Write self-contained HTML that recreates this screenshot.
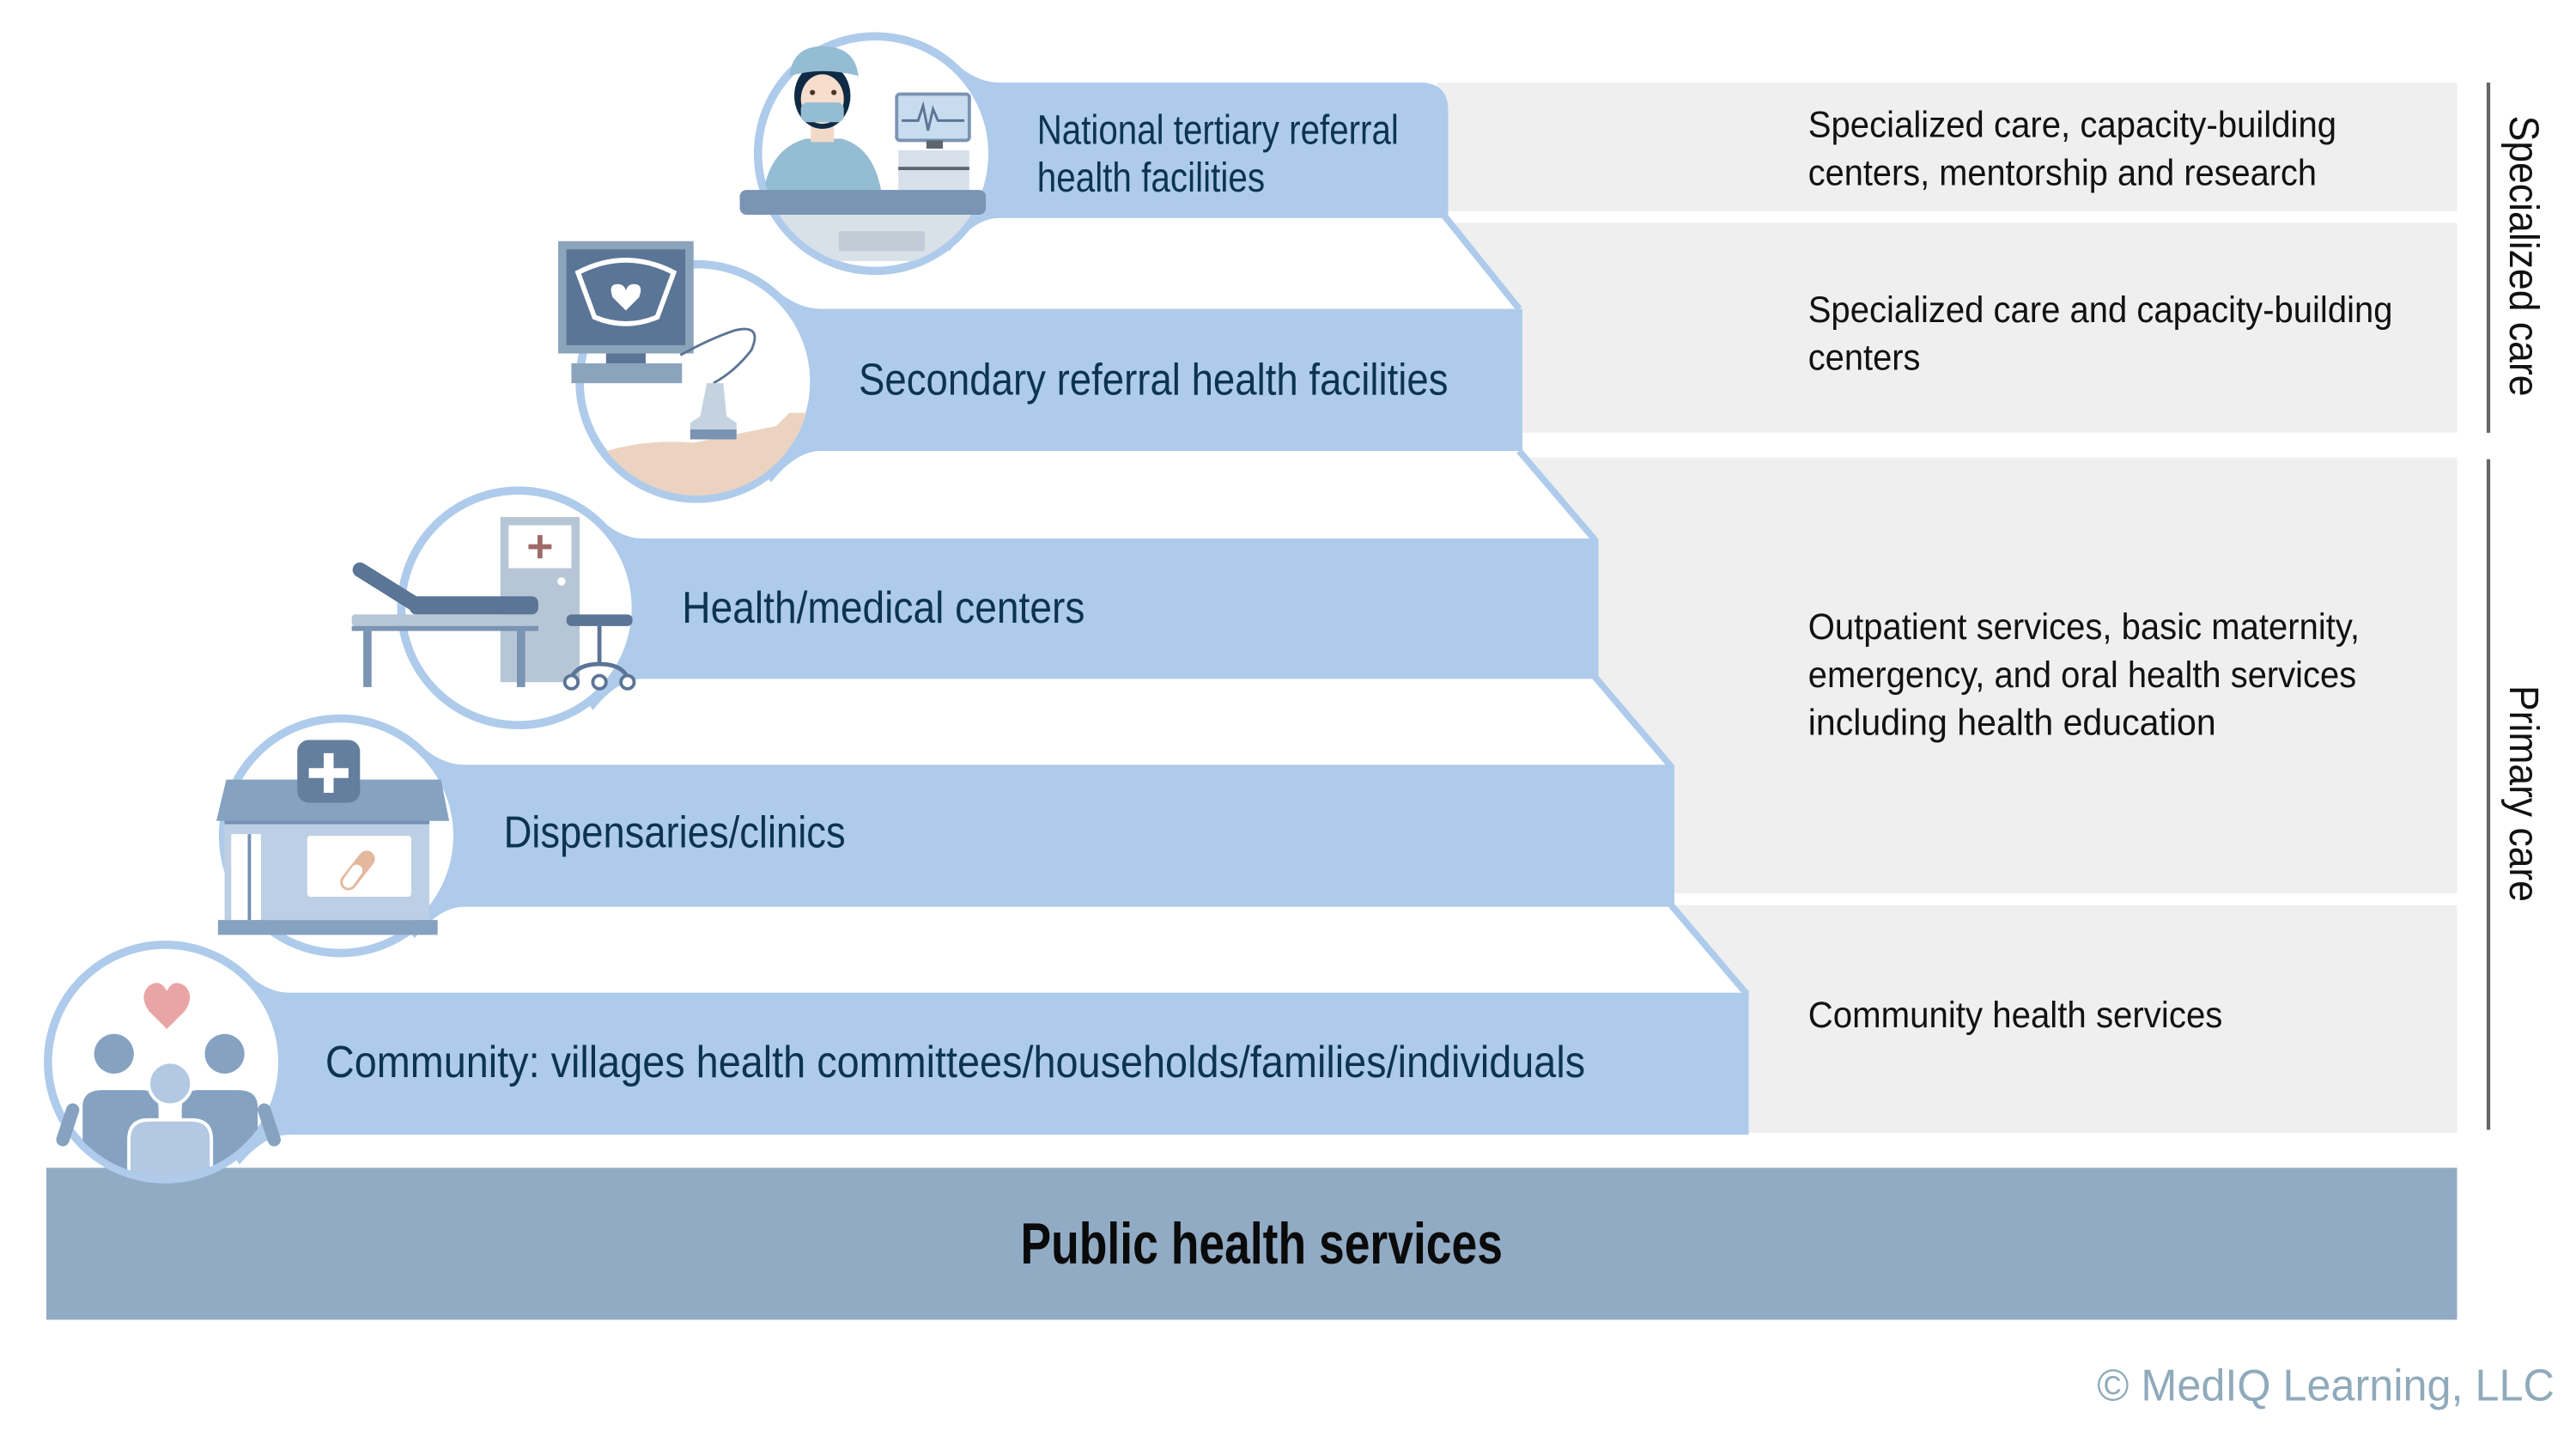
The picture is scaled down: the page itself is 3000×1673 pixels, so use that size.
<!DOCTYPE html>
<html><head><meta charset="utf-8"><style>
html,body{margin:0;padding:0;background:#fff;}
svg{display:block;}
</style></head><body>
<svg width="3000" height="1673" viewBox="0 0 1560 870" xmlns="http://www.w3.org/2000/svg" font-family="'Liberation Sans', sans-serif">
<rect width="1560" height="870" fill="#fff"/>
<!-- grey rows -->
<g fill="#efefef">
<rect x="870" y="50" width="618" height="78"/>
<rect x="870" y="135" width="618" height="127"/>
<rect x="900" y="277" width="588" height="264"/>
<rect x="960" y="548" width="528" height="138"/>
</g>
<!-- white wedges -->
<g fill="#fff">
<path d="M700 131 L875 131 L920 187 L700 187 Z"/>
<path d="M700 273 L920 273 L966 327 L700 327 Z"/>
<path d="M700 410 L966 410 L1012 464 L700 464 Z"/>
<path d="M700 548 L1012 548 L1058 602 L700 602 Z"/>
</g>
<!-- vertical lines -->
<g stroke="#666" stroke-width="2.2">
<line x1="1507" y1="50" x2="1507" y2="262"/>
<line x1="1507" y1="278" x2="1507" y2="684"/>
</g>
<!-- public health bar -->
<rect x="28" y="707" width="1460" height="92" fill="#91abc4"/>
<text x="618" y="765" font-size="35" font-weight="bold" fill="#0a0a0a" font-family="'Liberation Sans Narrow','Liberation Sans',sans-serif" textLength="292" lengthAdjust="spacingAndGlyphs">Public health services</text>

<!-- diagonal connectors -->
<g fill="none" stroke="#aecbeb" stroke-width="4">
<path d="M875 131 L920 187"/>
<path d="M920 273 L966 327"/>
<path d="M966 410 L1012 464"/>
<path d="M1012 548 L1058 602"/>
</g>

<!-- tiers -->
<g fill="#aecbeb">
<path d="M540 50 H860 Q877 50 877 67 V132 H540 Z"/>
<rect x="430" y="187" width="492" height="86"/>
<rect x="320" y="326" width="648" height="85"/>
<rect x="210" y="463" width="804" height="86"/>
<rect x="100" y="601" width="959" height="86"/>
</g>

<!-- necks -->
<g fill="#aecbeb">
<path d="M530 93 L575 35 Q590 50 605 50 L605 132 Q590 132 575 152 Z"/>
<path d="M422 231 L467 173 Q482 187 497 187 L497 273 Q482 273 467 292 Z"/>
<path d="M314 368 L359 310 Q374 326 389 326 L389 411 Q374 411 359 430 Z"/>
<path d="M206 506 L251 448 Q266 463 281 463 L281 549 Q266 549 251 568 Z"/>
<path d="M100 643 L145 585 Q160 601 175 601 L175 687 Q160 687 145 705 Z"/>
</g>
<!-- circles -->
<g fill="#fff" stroke="#aecbeb" stroke-width="5">
<circle cx="530" cy="93" r="71"/>
<circle cx="422" cy="231" r="71"/>
<circle cx="314" cy="368" r="71"/>
<circle cx="206" cy="506" r="71"/>
<circle cx="100" cy="643" r="71"/>
</g>

<!-- Icon 1: nurse -->
<clipPath id="c1"><circle cx="530" cy="93" r="69"/></clipPath>
<g clip-path="url(#c1)">
<path d="M462 118 Q466 90 488 84 L510 84 Q530 90 534 118 Z" fill="#94bdd3"/>
<rect x="458" y="128" width="130" height="30" fill="#d8e0e8"/>
<rect x="508" y="140" width="52" height="12" fill="#c2ccd6"/>
</g>
<rect x="491" y="74" width="14" height="12" fill="#f3d9c8"/>
<ellipse cx="498" cy="58" rx="17" ry="20" fill="#0f2a44"/>
<ellipse cx="498" cy="60" rx="13" ry="15" fill="#f6ddcc"/>
<path d="M478 50 Q478 28 498 28 Q520 28 520 50 L520 46 Q498 40 478 46 Z" fill="#94bdd3"/>
<rect x="485" y="62" width="26" height="12" rx="4" fill="#94bdd3"/>
<circle cx="492" cy="56" r="1.6" fill="#4a3528"/><circle cx="505" cy="56" r="1.6" fill="#4a3528"/>
<rect x="543" y="57" width="44" height="28" rx="2" fill="#c8dcf0" stroke="#7a94b3" stroke-width="2"/>
<path d="M546 73 H556 L559 64 L562 79 L565 66 L568 73 H584" fill="none" stroke="#5b7596" stroke-width="1.5"/>
<rect x="561" y="85" width="10" height="5" fill="#5d6670"/>
<rect x="544" y="91" width="43" height="24" fill="#d8e0ea"/>
<rect x="544" y="101" width="43" height="2" fill="#5d6670"/>
<rect x="448" y="115" width="149" height="15" rx="4" fill="#7a94b3"/>

<!-- Icon 2: ultrasound -->
<clipPath id="c2"><circle cx="422" cy="231" r="69"/></clipPath>
<g clip-path="url(#c2)">
<path d="M350 280 Q380 265 420 268 Q450 262 470 258 L478 250 L500 250 L500 310 L350 310 Z" fill="#ecd3c1"/>
</g>
<rect x="338" y="146" width="82" height="68" fill="#8ca3bc"/>
<rect x="343" y="151" width="72" height="58" fill="#5b7596"/>
<path d="M350 165 Q379 150 408 165 L398 192 Q379 200 360 192 Z" fill="none" stroke="#fff" stroke-width="3"/>
<path d="M379 188 L371 180 Q368 172 374 172 Q378 172 379 176 Q380 172 384 172 Q390 172 387 180 Z" fill="#fff"/>
<rect x="367" y="214" width="24" height="6" fill="#5b7596"/>
<rect x="346" y="220" width="67" height="12" fill="#8ca3bc"/>
<path d="M412 215 Q430 205 445 200 Q462 196 455 212 Q445 225 432 232" fill="none" stroke="#5b7596" stroke-width="1.5"/>
<path d="M428 232 L438 232 L440 252 L446 256 L446 266 L418 266 L418 256 L424 252 Z" fill="#c5d3e0"/>
<rect x="418" y="260" width="28" height="6" fill="#7a94b3"/>

<!-- Icon 3: exam room -->
<rect x="303" y="313" width="48" height="100" fill="#b7c6d6"/>
<rect x="308" y="318" width="38" height="26" fill="#fff"/>
<path d="M327 324 V338 M320 331 H334" stroke="#a06a6a" stroke-width="3"/>
<circle cx="340" cy="352" r="2.5" fill="#fff"/>
<path d="M218 345 L250 365" stroke="#5b7596" stroke-width="9" stroke-linecap="round"/>
<rect x="248" y="361" width="78" height="11" rx="4" fill="#5b7596"/>
<rect x="213" y="372" width="113" height="7" rx="2" fill="#b7c6d6"/>
<rect x="213" y="379" width="113" height="3" fill="#7a94b3"/>
<rect x="220" y="382" width="5" height="34" fill="#7a94b3"/>
<rect x="313" y="382" width="5" height="34" fill="#7a94b3"/>
<rect x="343" y="372" width="40" height="7" rx="3" fill="#5b7596"/>
<path d="M363 379 V402 M363 402 Q350 402 346 410 M363 402 Q376 402 380 410" stroke="#5b7596" stroke-width="2.5" fill="none"/>
<g fill="#fff" stroke="#5b7596" stroke-width="2"><circle cx="346" cy="413" r="4"/><circle cx="363" cy="413" r="4"/><circle cx="380" cy="413" r="4"/></g>

<!-- Icon 4: clinic -->
<rect x="136" y="495" width="124" height="62" fill="#bccfe5"/>
<rect x="136" y="495" width="124" height="4" fill="#7690b4"/>
<path d="M131 497 L137 472 H267 L272 497 Z" fill="#86a2c1"/>
<rect x="180" y="448" width="38" height="38" rx="7" fill="#647f9e"/>
<path d="M199 456 V480 M187 468 H211" stroke="#fff" stroke-width="6"/>
<rect x="140" y="505" width="18" height="52" fill="#fff"/>
<rect x="150" y="505" width="2" height="52" fill="#7690b4"/>
<rect x="186" y="506" width="63" height="37" rx="2" fill="#fff"/>
<path d="M211 534 L222 520" stroke="#e4b89c" stroke-width="10" stroke-linecap="round"/>
<path d="M211 534 L216 527" stroke="#fff" stroke-width="7" stroke-linecap="round"/>
<rect x="132" y="557" width="133" height="9" fill="#86a2c1"/>

<!-- Icon 5: community -->
<clipPath id="c5"><circle cx="100" cy="643" r="69"/></clipPath>
<g clip-path="url(#c5)">
<circle cx="69" cy="638" r="12" fill="#86a2c1"/>
<circle cx="136" cy="638" r="12" fill="#86a2c1"/>
<path d="M50 720 V670 Q50 660 62 660 H86 Q96 660 96 672 V720 Z" fill="#86a2c1"/>
<path d="M110 720 V672 Q110 660 120 660 H144 Q156 660 156 670 V720 Z" fill="#86a2c1"/>
<circle cx="103" cy="656" r="13" fill="#b3c8e2" stroke="#fff" stroke-width="2"/>
<path d="M78 720 V690 Q78 678 90 678 H116 Q128 678 128 690 V720 Z" fill="#b3c8e2" stroke="#fff" stroke-width="2"/>
</g>
<path d="M101 623 L90 612 Q84 603 90 597 Q97 592 101 600 Q105 592 112 597 Q118 603 112 612 Z" fill="#e9a5a6"/>
<path d="M44 672 L38 690 M160 672 L166 690" stroke="#86a2c1" stroke-width="8" stroke-linecap="round"/>

<!-- tier labels -->
<g fill="#0d3352" font-family="'Liberation Sans Narrow','Liberation Sans',sans-serif" font-size="25">
<text x="628" y="87" textLength="219" lengthAdjust="spacingAndGlyphs">National tertiary referral</text>
<text x="628" y="116" textLength="138" lengthAdjust="spacingAndGlyphs">health facilities</text>
<text x="520" y="239" font-size="27" textLength="357" lengthAdjust="spacingAndGlyphs">Secondary referral health facilities</text>
<text x="413" y="377" font-size="27" textLength="244" lengthAdjust="spacingAndGlyphs">Health/medical centers</text>
<text x="305" y="513" font-size="27" textLength="207" lengthAdjust="spacingAndGlyphs">Dispensaries/clinics</text>
<text x="197" y="652" font-size="27" textLength="763" lengthAdjust="spacingAndGlyphs">Community: villages health committees/households/families/individuals</text>
</g>

<!-- right descriptions -->
<g fill="#111" font-size="22">
<text x="1095" y="83" textLength="320" lengthAdjust="spacingAndGlyphs">Specialized care, capacity-building</text>
<text x="1095" y="112" textLength="308" lengthAdjust="spacingAndGlyphs">centers, mentorship and research</text>
<text x="1095" y="195" textLength="354" lengthAdjust="spacingAndGlyphs">Specialized care and capacity-building</text>
<text x="1095" y="224" textLength="68" lengthAdjust="spacingAndGlyphs">centers</text>
<text x="1095" y="387" textLength="334" lengthAdjust="spacingAndGlyphs">Outpatient services, basic maternity,</text>
<text x="1095" y="416" textLength="332" lengthAdjust="spacingAndGlyphs">emergency, and oral health services</text>
<text x="1095" y="445" textLength="247" lengthAdjust="spacingAndGlyphs">including health education</text>
<text x="1095" y="622" textLength="251" lengthAdjust="spacingAndGlyphs">Community health services</text>
</g>

<!-- vertical labels -->
<g fill="#111" font-size="25" font-family="'Liberation Sans Narrow','Liberation Sans',sans-serif">
<text transform="translate(1520,70) rotate(90)" textLength="170" lengthAdjust="spacingAndGlyphs">Specialized care</text>
<text transform="translate(1520,415) rotate(90)" textLength="131" lengthAdjust="spacingAndGlyphs">Primary care</text>
</g>

<text x="1270" y="848" font-size="27" fill="#8faabb" font-family="'Liberation Sans Narrow','Liberation Sans',sans-serif" textLength="277" lengthAdjust="spacingAndGlyphs">© MedIQ Learning, LLC</text>
</svg>
</body></html>
